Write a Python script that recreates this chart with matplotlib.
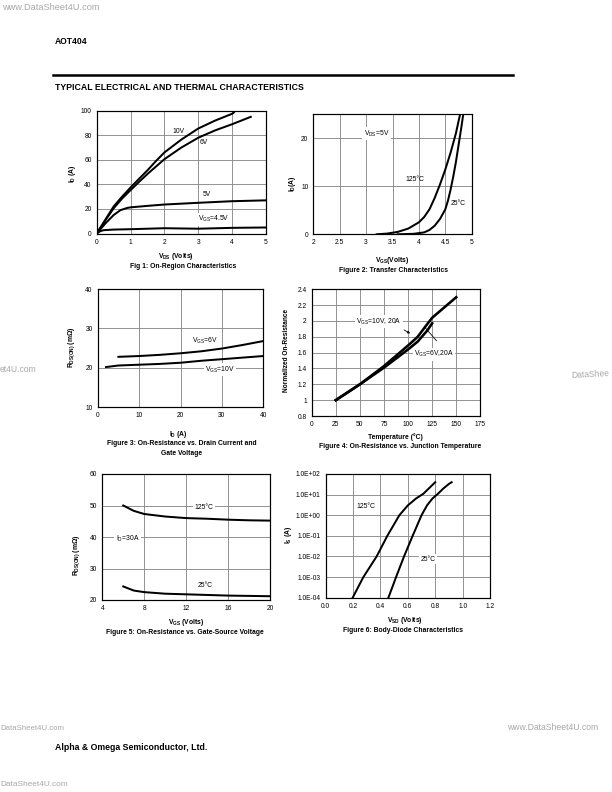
import matplotlib
matplotlib.use("Agg")
import matplotlib.pyplot as plt
import matplotlib.ticker as mticker

plt.rcParams['font.family'] = ['Liberation Sans', 'DejaVu Sans']
plt.rcParams['mathtext.fontset'] = 'custom'
plt.rcParams['mathtext.rm'] = 'Liberation Sans'
plt.rcParams['mathtext.bf'] = 'Liberation Sans:bold'
plt.rcParams['mathtext.it'] = 'Liberation Sans'

# Fig 1: On-region characteristics (VDS in V, ID in A)
f1_vds_10v = [0, 0.25, 0.5, 0.75, 1.0, 1.25, 1.5, 1.75, 2.0, 2.5, 3.0, 3.5, 4.0, 4.05]
f1_id_10v = [0, 11, 22, 30, 37.5, 44.5, 51.5, 59, 66, 76.5, 85.5, 92, 97.5, 98.5]
f1_vds_6v = [0, 0.25, 0.5, 0.75, 1.0, 1.25, 1.5, 1.75, 2.0, 2.5, 3.0, 3.5, 4.0, 4.55]
f1_id_6v = [0, 10.5, 20.5, 28.5, 35.3, 42, 48.5, 54.5, 60.5, 70, 78, 84, 89, 95]
f1_vds_5v = [0, 0.25, 0.5, 0.7, 0.9, 1.0, 1.5, 2.0, 3.0, 4.0, 5.0]
f1_id_5v = [0, 8, 15, 19, 20.8, 21.3, 22.5, 23.6, 25, 26.3, 27]
f1_vds_45v = [0, 0.1, 0.2, 0.5, 1.0, 2.0, 3.0, 4.0, 5.0]
f1_id_45v = [0, 1.8, 2.7, 3.2, 3.5, 4.3, 3.9, 4.6, 4.9]

# Fig 2: transfer characteristics (VGS in V, ID in A)
f2_vgs_125 = [3.2, 3.4, 3.6, 3.8, 4.0, 4.1, 4.2, 4.3, 4.4, 4.5, 4.6, 4.7, 4.78]
f2_id_125 = [0, 0.15, 0.5, 1.2, 2.5, 3.6, 5.2, 7.6, 10.4, 13.5, 17, 21, 25]
f2_vgs_25 = [3.6, 3.9, 4.1, 4.2, 4.3, 4.4, 4.5, 4.55, 4.6, 4.65, 4.7, 4.75, 4.8, 4.84]
f2_id_25 = [0, 0.1, 0.4, 0.9, 1.8, 3.2, 5.2, 7, 9.3, 12, 15, 18.5, 22, 25]

# Fig 3: RDS(ON) vs drain current (ID in A, R in mOhm)
f3_id_6v = [5, 10, 15, 20, 25, 30, 35, 40]
f3_r_6v = [22.8, 23.0, 23.3, 23.7, 24.2, 24.9, 25.8, 26.8]
f3_id_10v = [2, 5, 10, 15, 20, 25, 30, 35, 40]
f3_r_10v = [20.2, 20.6, 20.8, 21.0, 21.3, 21.8, 22.2, 22.6, 23.0]

# Fig 4: normalized RDS(ON) vs junction temperature
f4_t_10v = [25, 50, 75, 100, 110, 118, 125, 150]
f4_r_10v = [1.0, 1.2, 1.43, 1.69, 1.8, 1.93, 2.04, 2.3]
f4_t_6v = [25, 50, 75, 100, 110, 120, 125]
f4_r_6v = [1.0, 1.2, 1.41, 1.64, 1.74, 1.88, 1.97]

# Fig 5: RDS(ON) vs VGS (ID = 30A)
f5_vgs = [6, 7, 8, 10, 12, 14, 16, 18, 20]
f5_r_125 = [50, 48.3, 47.3, 46.5, 46.0, 45.8, 45.5, 45.3, 45.2]
f5_r_25 = [24.3, 23.0, 22.5, 22.0, 21.8, 21.6, 21.4, 21.3, 21.2]

# Fig 6: body diode (VSD in V, IS in A)
f6_vsd_125 = [0.197, 0.275, 0.372, 0.45, 0.538, 0.6, 0.66, 0.713, 0.76, 0.80]
f6_is_125 = [1e-4, 1e-3, 1e-2, 1e-1, 1.0, 3.0, 6.5, 11, 22, 40]
f6_vsd_25 = [0.458, 0.514, 0.572, 0.635, 0.70, 0.74, 0.78, 0.82, 0.86, 0.90, 0.92]
f6_is_25 = [1e-4, 1e-3, 1e-2, 1e-1, 1.0, 3.0, 6.5, 11, 20, 33, 40]

W, H = 612, 792
fig = plt.figure(figsize=(W / 72, H / 72), dpi=72)
fig.patch.set_facecolor('white')

TS = 6.6   # tick label size
AS = 6.8   # in-plot annotation size


def box(l, t, r, b):
    ax = fig.add_axes([l / W, 1 - b / H, (r - l) / W, (b - t) / H])
    ax.grid(True, color='#8a8a8a', lw=0.9)
    ax.set_axisbelow(True)
    for s in ax.spines.values():
        s.set_color('black')
        s.set_linewidth(1.2)
    ax.tick_params(length=0, pad=5, labelsize=TS)
    return ax


def put(x, y, s, **kw):
    kw.setdefault('ha', 'center')
    kw.setdefault('va', 'center')
    fig.text(x / W, 1 - y / H, s, **kw)


def lab(ax, x, y, s, bg=False, **kw):
    t = ax.text(x, y, s, ha='center', va='center', fontsize=AS, **kw)
    if bg:
        t.set_bbox(dict(facecolor='white', edgecolor='none', pad=1.5))
    return t


LW = 2.0
BF = dict(fontsize=6.7, fontweight='bold')
YL = dict(rotation=90, fontsize=6.8, fontweight='bold')

# ---- header / footer ----
put(55, 42, 'AOT404', ha='left', fontsize=8.5, fontweight='bold')
fig.add_artist(plt.Line2D([53 / W, 513 / W], [1 - 75 / H, 1 - 75 / H], color='black', lw=2.5))
put(55, 88, 'TYPICAL ELECTRICAL AND THERMAL CHARACTERISTICS', ha='left', fontsize=8.8, fontweight='bold')
put(55, 748, 'Alpha & Omega Semiconductor, Ltd.', ha='left', fontsize=8.8, fontweight='bold')
wm = dict(color='#a8a8a8')
put(2, 7, 'www.DataSheet4U.com', ha='left', fontsize=9.2, **wm)
put(0, 370, 'et4U.com', ha='left', fontsize=8.5, **wm)
put(571, 375, 'DataShee', ha='left', rotation=3, fontsize=8.5, **wm)
put(0, 729, 'DataSheet4U.com', ha='left', fontsize=7.8, **wm)
put(598, 728, 'www.DataSheet4U.com', ha='right', fontsize=8.6, **wm)
put(0, 784, 'DataSheet4U.com', ha='left', fontsize=8.2, **wm)

# ---- Fig 1 ----
ax = box(96.7, 110.7, 266, 233.5)
ax.plot(f1_vds_10v, f1_id_10v, color='black', lw=LW)
ax.plot(f1_vds_6v, f1_id_6v, color='black', lw=LW)
ax.plot(f1_vds_5v, f1_id_5v, color='black', lw=LW)
ax.plot(f1_vds_45v, f1_id_45v, color='black', lw=LW)
ax.set_xlim(0, 5)
ax.set_ylim(0, 100)
ax.set_xticks(range(0, 6))
ax.set_yticks(range(0, 101, 20))
lab(ax, 2.43, 83, '10V')
lab(ax, 3.15, 74, '6V')
lab(ax, 3.26, 32, '5V')
lab(ax, 3.46, 11.5, r'V$_{GS}$=4.5V', bg=True)
put(72, 174, r'I$_{\mathbf{D}}$ (A)', **YL)
put(176, 257, r'$\mathbf{V_{DS}}$ (Volts)', **BF)
put(183, 266, 'Fig 1: On-Region Characteristics', **BF)

# ---- Fig 2 ----
ax = box(313.3, 114.3, 471.7, 234.3)
ax.plot(f2_vgs_125, f2_id_125, color='black', lw=LW)
ax.plot(f2_vgs_25, f2_id_25, color='black', lw=LW)
ax.set_xlim(2, 5)
ax.set_ylim(0, 25)
ax.set_xticks([2, 2.5, 3, 3.5, 4, 4.5, 5])
ax.xaxis.set_major_formatter(mticker.FormatStrFormatter('%g'))
ax.set_yticks([0, 10, 20])
lab(ax, 3.2, 21, r'V$_{DS}$=5V', bg=True)
lab(ax, 3.92, 11.4, '125°C')
lab(ax, 4.74, 6.4, '25°C')
put(292, 184, r'I$_{\mathbf{D}}$(A)', **YL)
put(392, 260, r'$\mathbf{V_{GS}}$(Volts)', **BF)
put(393, 271, 'Figure 2: Transfer Characteristics', **BF)

# ---- Fig 3 ----
ax = box(97.7, 289, 263.3, 407.3)
ax.plot(f3_id_6v, f3_r_6v, color='black', lw=LW)
ax.plot(f3_id_10v, f3_r_10v, color='black', lw=LW)
ax.set_xlim(0, 40)
ax.set_ylim(10, 40)
ax.set_xticks(range(0, 41, 10))
ax.set_yticks(range(10, 41, 10))
lab(ax, 25.8, 26.8, r'V$_{GS}$=6V')
lab(ax, 29.6, 19.6, r'V$_{GS}$=10V', bg=True)
put(72, 347, r'R$_{\mathbf{DS(ON)}}$ (m$\mathbf{\Omega}$)', **YL)
put(178, 435, r'$\mathbf{I_{D}}$ (A)', **BF)
put(182, 444, 'Figure 3: On-Resistance vs. Drain Current and', **BF)
put(182, 453, 'Gate Voltage', **BF)

# ---- Fig 4 ----
ax = box(311.7, 289.3, 480.3, 416)
ax.plot(f4_t_10v, f4_r_10v, color='black', lw=2.6)
ax.plot(f4_t_6v, f4_r_6v, color='black', lw=2.6)
ax.set_xlim(0, 175)
ax.set_ylim(0.8, 2.4)
ax.set_xticks(range(0, 176, 25))
ax.set_yticks([0.8, 1.0, 1.2, 1.4, 1.6, 1.8, 2.0, 2.2, 2.4])
ax.yaxis.set_major_formatter(mticker.FormatStrFormatter('%g'))
lab(ax, 70, 1.99, r'V$_{GS}$=10V, 20A', bg=True)
ax.annotate('', xy=(104, 1.83), xytext=(94, 1.9),
            arrowprops=dict(arrowstyle='-|>', color='black', lw=0.8, mutation_scale=5))
ax.annotate('', xy=(116, 1.94), xytext=(131, 1.73),
            arrowprops=dict(arrowstyle='-', color='black', lw=0.8))
lab(ax, 127, 1.58, r'V$_{GS}$=6V,20A', bg=True)
put(287, 350, 'Normalized On-Resistance', rotation=90, fontsize=6.5, fontweight='bold')
put(395, 437, 'Temperature (°C)', **BF)
put(400, 446, 'Figure 4: On-Resistance vs. Junction Temperature', **BF)

# ---- Fig 5 ----
ax = box(102.3, 474, 270, 600)
ax.plot(f5_vgs, f5_r_125, color='black', lw=LW)
ax.plot(f5_vgs, f5_r_25, color='black', lw=LW)
ax.set_xlim(4, 20)
ax.set_ylim(20, 60)
ax.set_xticks(range(4, 21, 4))
ax.set_yticks(range(20, 61, 10))
lab(ax, 13.7, 49.4, '125°C', bg=True)
lab(ax, 6.4, 39.5, r'I$_{D}$=30A', bg=True)
lab(ax, 13.8, 24.7, '25°C')
put(77, 555, r'R$_{\mathbf{DS(ON)}}$ (m$\mathbf{\Omega}$)', **YL)
put(186, 622, r'$\mathbf{V_{GS}}$ (Volts)', **BF)
put(185, 632, 'Figure 5: On-Resistance vs. Gate-Source Voltage', **BF)

# ---- Fig 6 ----
ax = box(325.7, 474, 490, 597.7)
ax.semilogy(f6_vsd_125, f6_is_125, color='black', lw=LW)
ax.semilogy(f6_vsd_25, f6_is_25, color='black', lw=LW)
ax.set_xlim(0, 1.2)
ax.set_ylim(1e-4, 1e2)
ax.set_xticks([0, 0.2, 0.4, 0.6, 0.8, 1.0, 1.2])
ax.xaxis.set_major_formatter(mticker.FormatStrFormatter('%.1f'))
ax.set_yticks([1e-4, 1e-3, 1e-2, 1e-1, 1, 1e1, 1e2])
ax.yaxis.set_major_formatter(mticker.FuncFormatter(lambda v, p: '%.1E' % v))
ax.yaxis.set_minor_locator(mticker.NullLocator())
ax.grid(False, which='minor')
lab(ax, 0.29, 2.8, '125°C')
lab(ax, 0.75, 7.2e-3, '25°C', bg=True)
put(289, 535, r'I$_{\mathbf{S}}$ (A)', **YL)
put(405, 621, r'$\mathbf{V_{SD}}$ (Volts)', **BF)
put(403, 631, 'Figure 6: Body-Diode Characteristics', **BF)

fig.savefig('out.png', dpi=72, facecolor='white')
